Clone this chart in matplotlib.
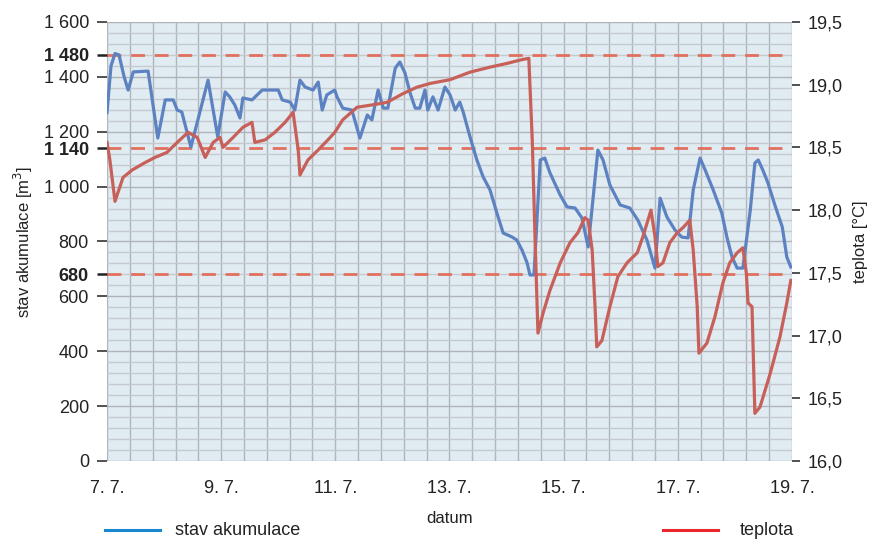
import numpy as np
import matplotlib
matplotlib.use('Agg')
import matplotlib.pyplot as plt
from matplotlib.lines import Line2D

plt.rcParams['font.family'] = ['Liberation Sans Narrow', 'Liberation Sans', 'DejaVu Sans']

# time in days after 7. 7. (0 = 7. 7., 12 = 19. 7.)
akum_day = [0.00, 0.07, 0.14, 0.21, 0.30, 0.37, 0.46, 0.72, 0.89, 1.02, 1.16, 1.23, 1.31, 1.47,
            1.77, 1.94, 2.07, 2.15, 2.24, 2.33, 2.38, 2.54, 2.72, 3.00, 3.07, 3.21, 3.29, 3.38,
            3.47, 3.61, 3.70, 3.77, 3.85, 3.99, 4.03, 4.13, 4.29, 4.43, 4.56, 4.64, 4.75, 4.84,
            4.92, 5.05, 5.13, 5.22, 5.31, 5.40, 5.48, 5.57, 5.62, 5.71, 5.80, 5.92, 6.01, 6.10,
            6.18, 6.24, 6.36, 6.48, 6.59, 6.71, 6.83, 6.94, 7.10, 7.18, 7.27, 7.36, 7.41, 7.48,
            7.59, 7.67, 7.76, 7.94, 8.06, 8.20, 8.32, 8.43, 8.60, 8.69, 8.81, 8.99, 9.16, 9.30,
            9.46, 9.60, 9.69, 9.81, 9.95, 10.07, 10.18, 10.27, 10.39, 10.48, 10.62, 10.77, 10.86,
            10.95, 11.04, 11.14, 11.27, 11.35, 11.41, 11.49, 11.58, 11.70, 11.83, 11.91, 11.98]
akum_m3 = [1270, 1440, 1485, 1480, 1400, 1352, 1418, 1421, 1177, 1316, 1316, 1279, 1272, 1144,
           1388, 1181, 1345, 1327, 1297, 1250, 1323, 1316, 1352, 1352, 1316, 1308, 1279, 1388,
           1363, 1352, 1381, 1279, 1334, 1352, 1327, 1286, 1279, 1177, 1261, 1243, 1352, 1286,
           1286, 1432, 1454, 1414, 1341, 1286, 1286, 1352, 1279, 1327, 1279, 1363, 1334, 1279,
           1308, 1272, 1181, 1097, 1035, 988, 904, 831, 816, 805, 769, 722, 678, 678,
           1097, 1104, 1050, 969, 926, 922, 886, 780, 1133, 1097, 1006, 933, 922, 878,
           805, 703, 958, 889, 842, 816, 813, 988, 1104, 1060, 988, 904, 816,
           743, 703, 703, 915, 1086, 1097, 1060, 1013, 933, 853, 743, 707]

tepl_day = [0.00, 0.05, 0.14, 0.28, 0.44, 0.67, 0.84, 1.05, 1.23, 1.42, 1.58, 1.72, 1.86, 1.98,
            2.03, 2.21, 2.38, 2.54, 2.59, 2.77, 2.94, 3.12, 3.26, 3.35, 3.38, 3.52, 3.70, 3.87,
            3.99, 4.13, 4.38, 4.66, 4.91, 5.19, 5.43, 5.66, 6.01, 6.36, 6.71, 7.01, 7.27, 7.39,
            7.45, 7.50, 7.55, 7.64, 7.76, 7.94, 8.11, 8.25, 8.37, 8.43, 8.50, 8.55, 8.58, 8.67,
            8.81, 8.95, 9.11, 9.29, 9.39, 9.53, 9.60, 9.65, 9.74, 9.86, 9.99, 10.09, 10.21, 10.27,
            10.34, 10.37, 10.51, 10.65, 10.79, 10.91, 11.04, 11.14, 11.20, 11.23, 11.30, 11.35,
            11.44, 11.62, 11.79, 11.91, 11.98]
tepl_c = [18.54, 18.40, 18.07, 18.26, 18.32, 18.38, 18.42, 18.46, 18.54, 18.62, 18.58, 18.42, 18.54, 18.58,
          18.50, 18.58, 18.66, 18.70, 18.54, 18.56, 18.62, 18.70, 18.78, 18.48, 18.28, 18.40, 18.48, 18.56,
          18.62, 18.72, 18.82, 18.84, 18.86, 18.93, 18.98, 19.01, 19.04, 19.10, 19.14, 19.17, 19.20, 19.21,
          18.56, 17.76, 17.02, 17.18, 17.36, 17.58, 17.74, 17.82, 17.94, 17.92, 17.68, 17.23, 16.91, 16.96,
          17.23, 17.47, 17.58, 17.66, 17.79, 18.00, 17.79, 17.55, 17.58, 17.74, 17.82, 17.86, 17.92, 17.68,
          17.23, 16.86, 16.94, 17.15, 17.42, 17.58, 17.66, 17.70, 17.50, 17.26, 17.23, 16.38,
          16.43, 16.70, 16.99, 17.26, 17.44]

limits = [1480, 1140, 680]
left_ticks = [0, 200, 400, 600, 800, 1000, 1200, 1400, 1600]
right_ticks = [16.0, 16.5, 17.0, 17.5, 18.0, 18.5, 19.0, 19.5]
x_ticks = [0, 2, 4, 6, 8, 10, 12]
x_labels = ['7. 7.', '9. 7.', '11. 7.', '13. 7.', '15. 7.', '17. 7.', '19. 7.']

BLUE = '#5d82c2'
RED = '#c8605a'
DASH = '#e2705e'
PINK = '#e8198b'

fig = plt.figure(figsize=(8.75, 5.4), dpi=100)
ax = fig.add_axes([0.1223, 0.1463, 0.7828, 0.813])
ax.set_facecolor('#e0ebf2')
ax.set_xlim(0, 12)
ax.set_ylim(0, 1600)

# paper-like grid
for v in np.arange(0, 12.01, 0.4):
    ax.axvline(v, color='#b2b6bc', lw=1.0, zorder=0)
for h in np.arange(0, 1601, 40):
    c = '#b0b4ba' if h % 200 == 0 else '#c6cacf'
    ax.axhline(h, color=c, lw=1.0, zorder=0)

for lim in limits:
    ax.axhline(lim, color=DASH, lw=2.0, dashes=(5, 3.5), zorder=1)

ax.plot(akum_day, akum_m3, color=BLUE, lw=2.3, zorder=3, solid_joinstyle='round')

for s in ax.spines.values():
    s.set_visible(False)

yt = sorted(left_ticks + limits)
ax.set_yticks(yt)
ax.set_yticklabels([f'{v:,}'.replace(',', ' ') for v in yt], fontsize=13)
ax.tick_params(axis='y', length=7, width=1.1, color='#222222', pad=6, labelcolor='#222222')
for t, v in zip(ax.yaxis.get_major_ticks(), yt):
    if v in limits:
        t.tick1line.set_color(PINK)
        t.tick1line.set_markeredgewidth(1.8)
        t.label1.set_fontweight('bold')
ax.set_xticks(x_ticks)
ax.set_xticklabels(x_labels, fontsize=13, color='#222222')
ax.tick_params(axis='x', length=0, pad=14)
ax.set_ylabel('stav akumulace [m$^3$]', fontsize=12, color='#222222', labelpad=6)
ax.set_xlabel('datum', fontsize=12, color='#222222', labelpad=10)

ax2 = ax.twinx()
ax2.set_ylim(16.0, 19.5)
ax2.plot(tepl_day, tepl_c, color=RED, lw=2.3, zorder=3, solid_joinstyle='round')
for s in ax2.spines.values():
    s.set_visible(False)
ax2.set_yticks(right_ticks)
ax2.set_yticklabels([f'{v:.1f}'.replace('.', ',') for v in right_ticks], fontsize=13, color='#222222')
ax2.tick_params(axis='y', length=6, width=1.1, color='#222222', pad=5)
ax2.set_ylabel('teplota [°C]', fontsize=12, color='#222222', labelpad=8)

# legend below the chart
fig.add_artist(Line2D([0.12, 0.183], [0.018, 0.018], color='#1a88d0', lw=2.2))
fig.text(0.2, 0.018, 'stav akumulace', fontsize=13, color='#222222', va='center')
fig.add_artist(Line2D([0.758, 0.82], [0.018, 0.018], color='#e8262b', lw=2.2))
fig.text(0.845, 0.018, 'teplota', fontsize=13, color='#222222', va='center')

fig.savefig('out.png', dpi=100)
